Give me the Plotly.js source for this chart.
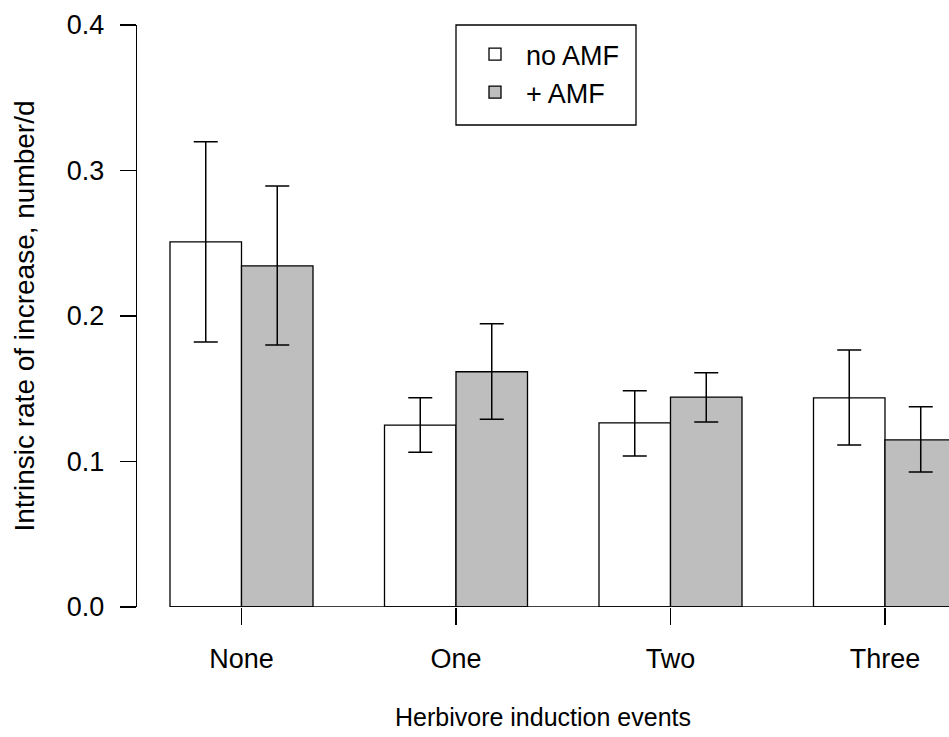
<!DOCTYPE html>
<html>
<head>
<meta charset="utf-8">
<script src="https://cdn.plot.ly/plotly-3.0.1.min.js"></script>
<style>html,body{margin:0;padding:0;background:#fff;}#chart{width:949px;height:737px;}</style>
</head>
<body>
<div id="chart"></div>
<script>
var categories = ["None", "One", "Two", "Three"];
var noAMF = [0.251, 0.125, 0.1265, 0.1437];
var noAMFErrPlus = [0.0687, 0.0188, 0.0222, 0.0329];
var noAMFErrMinus = [0.0689, 0.0186, 0.0227, 0.0323];
var plusAMF = [0.2344, 0.1617, 0.1443, 0.1148];
var plusAMFErrPlus = [0.0549, 0.0329, 0.0167, 0.0228];
var plusAMFErrMinus = [0.0544, 0.0326, 0.0171, 0.0220];
var yTicks = [0, 0.1, 0.2, 0.3, 0.4];
var yTickText = ["0.0", "0.1", "0.2", "0.3", "0.4"];

var xIdx = categories.map(function(c, i){ return i; });
var fam = "Liberation Sans, Arial, Helvetica, sans-serif";
var font = {family: fam, size: 27, color: "#000"};

var traces = [
  {type: "bar", name: "no AMF", x: xIdx, y: noAMF,
   marker: {color: "#ffffff", line: {color: "#000", width: 1.3}},
   error_y: {type: "data", symmetric: false, array: noAMFErrPlus, arrayminus: noAMFErrMinus,
             color: "#000", thickness: 1.5, width: 12},
   hoverinfo: "y"},
  {type: "bar", name: "+ AMF", x: xIdx, y: plusAMF,
   marker: {color: "#bebebe", line: {color: "#000", width: 1.3}},
   error_y: {type: "data", symmetric: false, array: plusAMFErrPlus, arrayminus: plusAMFErrMinus,
             color: "#000", thickness: 1.5, width: 12},
   hoverinfo: "y"}
];

var layout = {
  width: 949, height: 737,
  margin: {l: 137, r: 0, t: 25, b: 130, pad: 0},
  paper_bgcolor: "#fff", plot_bgcolor: "#fff",
  font: font,
  barmode: "group", bargap: 1/3, bargroupgap: 0,
  showlegend: true,
  legend: {x: (464 - 137) / 812, y: 1 - 5 / 582, xanchor: "left", yanchor: "top",
           borderwidth: 0, bgcolor: "rgba(0,0,0,0)",
           font: font, traceorder: "normal", itemwidth: 52},
  xaxis: {range: [-0.4872, 3.2984], tickmode: "array", tickvals: xIdx, ticktext: categories,
          showline: false, showgrid: false, zeroline: false,
          ticks: "outside", ticklen: 17, tickwidth: 1.3, tickcolor: "#000",
          ticklabelstandoff: 11, tickfont: font,
          title: {text: "Herbivore induction events", font: {family: fam, size: 25, color: "#000"}, standoff: 35}},
  yaxis: {range: [0, 0.4], tickmode: "array", tickvals: yTicks, ticktext: yTickText,
          showline: true, linecolor: "#000", linewidth: 1.3, mirror: false,
          showgrid: false, zeroline: false,
          ticks: "outside", ticklen: 16, tickwidth: 1.3, tickcolor: "#000",
          ticklabelstandoff: 10, tickfont: font,
          title: {text: "Intrinsic rate of increase, number/d", font: {family: fam, size: 28, color: "#000"}, standoff: 24}},
  shapes: [
    {type: "line", xref: "x", yref: "y", x0: -1/3, x1: 3.4, y0: 0, y1: 0,
     line: {color: "#000", width: 1.3}, layer: "above"},
    {type: "rect", xref: "paper", yref: "paper",
     x0: (456 - 137) / 812, x1: (636 - 137) / 812, y0: (607 - 125) / 582, y1: 1,
     line: {color: "#000", width: 1.3}, fillcolor: "rgba(0,0,0,0)", layer: "above"}
  ]
};

Plotly.newPlot("chart", traces, layout, {displayModeBar: false, staticPlot: true});
</script>
</body>
</html>
